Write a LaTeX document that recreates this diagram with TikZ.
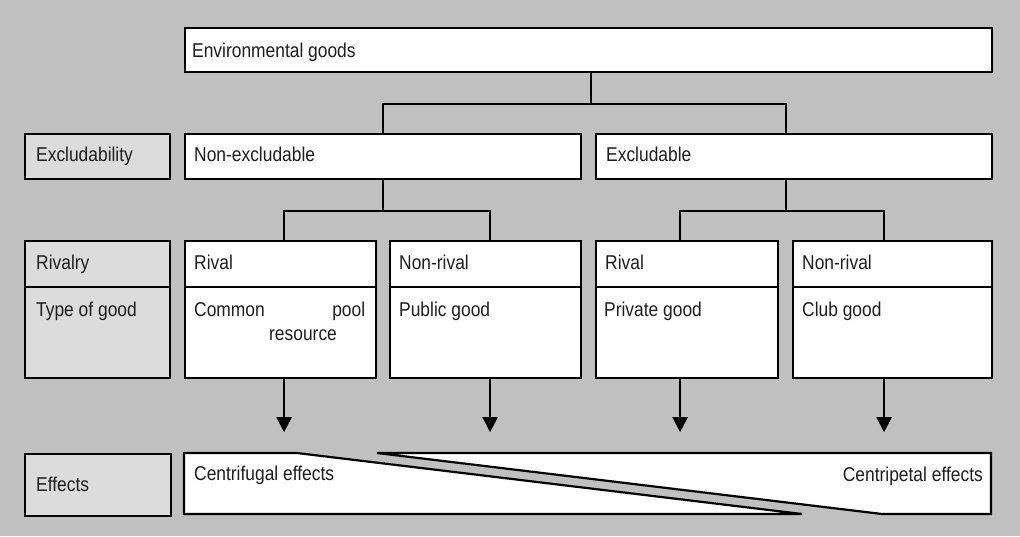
\documentclass[tikz,border=0pt]{standalone}
\usepackage{fontspec}
\setmainfont[FakeStretch=0.87]{Liberation Sans}
\usetikzlibrary{calc,arrows.meta}
\definecolor{bggray}{HTML}{C0C0C0}
\definecolor{labelgray}{HTML}{DCDCDC}
\definecolor{textcol}{HTML}{1E1E1E}
\begin{document}
\begin{tikzpicture}[x=1pt,y=-1pt,
  box/.style={draw=black,line width=2.2pt,fill=white,inner sep=0pt,anchor=north west},
  lbox/.style={box,fill=labelgray},
  txt/.style={inner sep=0pt,anchor=base west,font=\fontsize{20}{24}\selectfont,text=textcol},
  conn/.style={line width=2.2pt},
  arr/.style={line width=2.2pt,-{Triangle[width=15pt,length=15pt]}},
  shape edge/.style={draw=black,line width=2.2pt,fill=white}]
\fill[bggray] (0,0) rectangle (1020,536);
\useasboundingbox (0,0) rectangle (1020,536);

% top box
\node[box,minimum width=807pt,minimum height=44pt] (env) at (184,27) {};
\node[txt] (tenv) at (192,57) {Environmental goods};

% excludability row
\node[lbox,minimum width=145pt,minimum height=45pt] (lexc) at (24,133) {};
\node[txt] (tlexc) at (36,161) {Excludability};
\node[box,minimum width=396pt,minimum height=45pt] (nex) at (184,133) {};
\node[txt] (tnex) at (194,161) {Non-excludable};
\node[box,minimum width=396pt,minimum height=45pt] (exc) at (595,133) {};
\node[txt] (texc) at (606,161) {Excludable};

% rivalry row
\node[lbox,minimum width=145pt,minimum height=46pt] (lriv) at (24,240) {};
\node[txt] (tlriv) at (36,269) {Rivalry};
\node[box,minimum width=191pt,minimum height=46pt] (r1) at (184,240) {};
\node[txt] (tr1) at (194,269) {Rival};
\node[box,minimum width=191pt,minimum height=46pt] (r2) at (389,240) {};
\node[txt] (tr2) at (399,269) {Non-rival};
\node[box,minimum width=182pt,minimum height=46pt] (r3) at (595,240) {};
\node[txt] (tr3) at (605,269) {Rival};
\node[box,minimum width=199pt,minimum height=46pt] (r4) at (792,240) {};
\node[txt] (tr4) at (802,269) {Non-rival};

% type of good row
\node[lbox,minimum width=145pt,minimum height=91pt] (ltyp) at (24,286) {};
\node[txt] (tltyp) at (36,316) {Type of good};
\node[box,minimum width=191pt,minimum height=91pt] (t1) at (184,286) {};
\node[txt] (tt1a) at (194,316) {\makebox[171pt][s]{Common\hfill pool}};
\node[txt] (tt1b) at (269,340) {resource};
\node[box,minimum width=191pt,minimum height=91pt] (t2) at (389,286) {};
\node[txt] (tt2) at (399,316) {Public good};
\node[box,minimum width=182pt,minimum height=91pt] (t3) at (595,286) {};
\node[txt] (tt3) at (604,316) {Private good};
\node[box,minimum width=199pt,minimum height=91pt] (t4) at (792,286) {};
\node[txt] (tt4) at (802,316) {Club good};

% connectors
\draw[conn] ([xshift=2.5pt]env.south) -- ++(0,31) coordinate (ja);
\draw[conn] (nex.north) |- (ja) -| ([xshift=-8pt]exc.north);
\draw[conn] (nex.south) -- ++(0,31) coordinate (jb);
\draw[conn] ([xshift=3.5pt]r1.north) |- (jb) -| ([xshift=4.5pt]r2.north);
\draw[conn] ([xshift=-8pt]exc.south) -- ++(0,31) coordinate (jc);
\draw[conn] ([xshift=-7pt]r3.north) |- (jc) -| ([xshift=-8.5pt]r4.north);

% arrows
\draw[arr] ([xshift=3.5pt]t1.south) -- ++(0,53);
\draw[arr] ([xshift=4.5pt]t2.south) -- ++(0,53);
\draw[arr] ([xshift=-7pt]t3.south) -- ++(0,53);
\draw[arr] ([xshift=-8.5pt]t4.south) -- ++(0,53);

% effects row
\node[lbox,minimum width=146pt,minimum height=62pt] (leff) at (24,453) {};
\node[txt] (tleff) at (36,491) {Effects};
\coordinate (cfa) at (184,453);
\coordinate (cfb) at (297,453);
\coordinate (cfc) at (802,514);
\coordinate (cfd) at (184,514);
\draw[shape edge] (cfa) -- (cfb) -- (cfc) -- (cfd) -- cycle;
\coordinate (cpa) at (377,453);
\coordinate (cpb) at (991,453);
\coordinate (cpc) at (991,514);
\coordinate (cpd) at (882,514);
\draw[shape edge] (cpa) -- (cpb) -- (cpc) -- (cpd) -- cycle;
\node[txt] (tcf) at (194,480) {Centrifugal effects};
\node[txt,anchor=base east] (tcp) at (983,481) {Centripetal effects};
\end{tikzpicture}
\end{document}
